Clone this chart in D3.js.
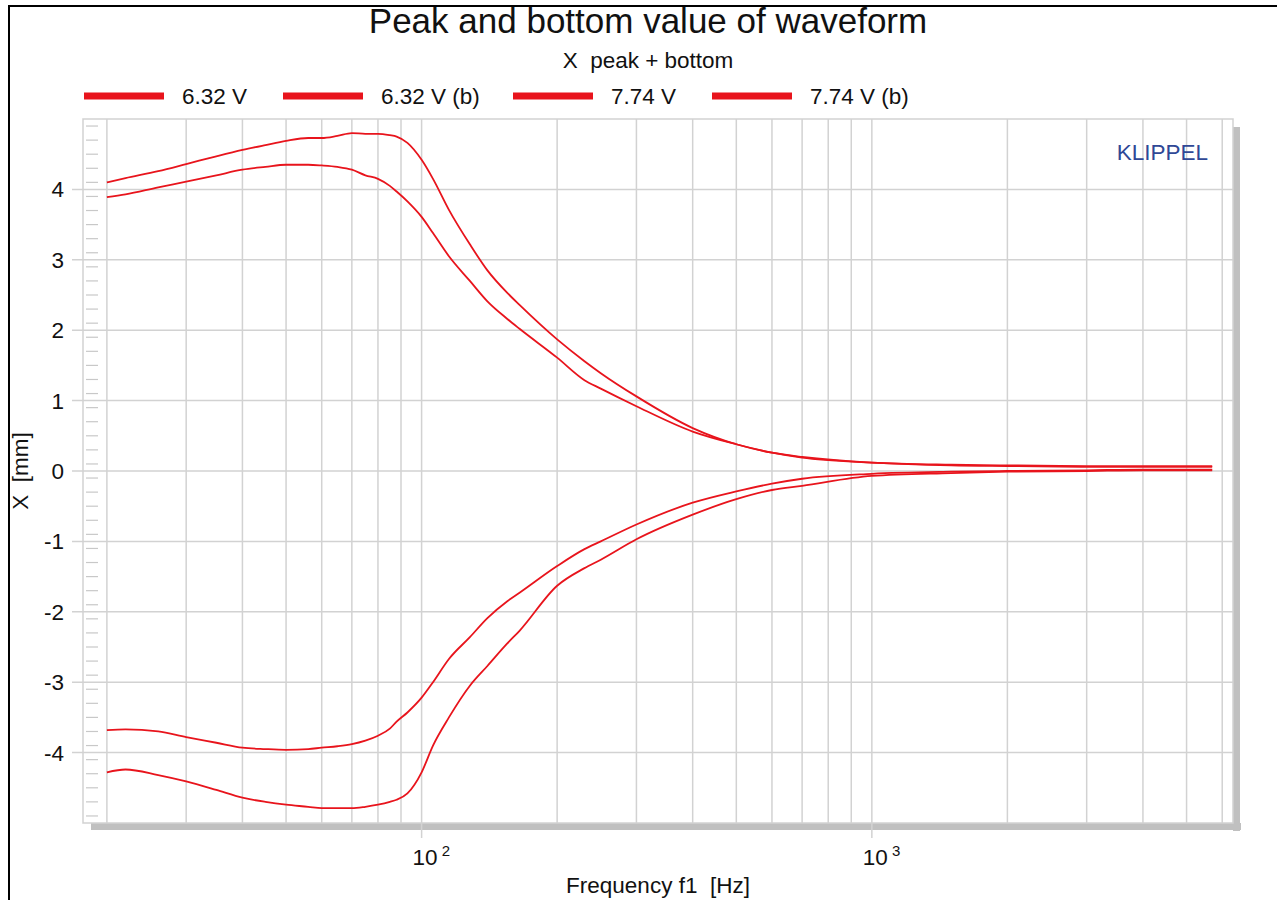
<!DOCTYPE html>
<html>
<head>
<meta charset="utf-8">
<script src="https://cdn.jsdelivr.net/npm/d3@7"></script>
<style>
  html, body { margin: 0; padding: 0; background: #fff; }
  svg { display: block; font-family: "Liberation Sans", Arial, sans-serif; }
  svg text { white-space: pre; }
</style>
</head>
<body>
<svg id="chart" width="1277" height="900"></svg>
<script>
// ---------------- DATA ----------------
const freq = [20, 22, 26, 30, 35, 40, 45, 50, 56, 60, 65, 70, 75, 80, 85, 88, 93, 100, 106, 115, 128, 140, 155, 165, 200, 230, 250, 300, 400, 500, 600, 700, 1000, 1500, 2000, 3000, 4000, 5700];

const peak632 = [3.89, 3.93, 4.03, 4.11, 4.20, 4.28, 4.32, 4.35, 4.35, 4.34, 4.32, 4.28, 4.20, 4.15, 4.05, 3.97, 3.83, 3.61, 3.38, 3.05, 2.70, 2.41, 2.16, 2.02, 1.61, 1.29, 1.17, 0.92, 0.56, 0.38, 0.26, 0.19, 0.12, 0.08, 0.07, 0.06, 0.06, 0.06];
const bottom632 = [-3.68, -3.67, -3.70, -3.78, -3.86, -3.93, -3.95, -3.96, -3.95, -3.93, -3.91, -3.88, -3.83, -3.76, -3.66, -3.56, -3.43, -3.22, -3.00, -2.67, -2.36, -2.09, -1.85, -1.73, -1.35, -1.11, -1.00, -0.76, -0.45, -0.29, -0.18, -0.11, -0.04, -0.01, 0.00, 0.01, 0.02, 0.02];
const peak774 = [4.10, 4.16, 4.26, 4.36, 4.47, 4.56, 4.63, 4.69, 4.73, 4.73, 4.76, 4.80, 4.79, 4.79, 4.77, 4.75, 4.66, 4.42, 4.15, 3.71, 3.22, 2.85, 2.53, 2.36, 1.87, 1.56, 1.39, 1.06, 0.61, 0.38, 0.26, 0.20, 0.12, 0.09, 0.08, 0.07, 0.07, 0.07];
const bottom774 = [-4.28, -4.24, -4.32, -4.41, -4.53, -4.64, -4.70, -4.74, -4.77, -4.79, -4.79, -4.79, -4.77, -4.74, -4.70, -4.67, -4.58, -4.28, -3.90, -3.50, -3.05, -2.77, -2.45, -2.27, -1.63, -1.38, -1.26, -0.97, -0.62, -0.40, -0.27, -0.21, -0.07, -0.03, -0.01, 0.00, 0.01, 0.01];

const seriesNames = ["6.32 V", "6.32 V (b)", "7.74 V", "7.74 V (b)"];
const seriesValues = [peak632, bottom632, peak774, bottom774];

const yTicks = [-4, -3, -2, -1, 0, 1, 2, 3, 4];
const xMajorTicks = [100, 1000];
const xMajorLabels = ["10", "10"];
const xMajorExp = ["2", "3"];
const xGrid = [20, 30, 40, 50, 60, 70, 80, 90, 100, 200, 300, 400, 500, 600, 700, 800, 900, 1000, 2000, 3000, 4000, 5000, 6000];

const titleText = "Peak and bottom value of waveform";
const subtitleText = "X  peak + bottom";
const xLabelText = "Frequency f1  [Hz]";
const yLabelText = "X  [mm]";
const brandText = "KLIPPEL";

// ---------------- LAYOUT ----------------
const plot = { left: 83, right: 1233, top: 119, bottom: 823 };
const red = "#e8141c";
const gridColor = "#d2d2d2";
const shadowColor = "#c0c0c0";
const fontSize = 22.5;

const svg = d3.select("#chart");

const x = d3.scaleLog().domain([17.7, 6340]).range([plot.left, plot.right]);
const y = d3.scaleLinear().domain([-5, 5]).range([plot.bottom, plot.top]);

// outer frame (top + left black lines)
svg.append("line").attr("x1", 8).attr("x2", 1277).attr("y1", 6).attr("y2", 6)
  .attr("stroke", "#000").attr("stroke-width", 2);
svg.append("line").attr("x1", 9).attr("x2", 9).attr("y1", 5).attr("y2", 900)
  .attr("stroke", "#000").attr("stroke-width", 2);

// shadow
svg.append("rect").attr("x", plot.right).attr("y", plot.top + 8)
  .attr("width", 7).attr("height", plot.bottom - plot.top).attr("fill", shadowColor);
svg.append("rect").attr("x", plot.left + 8).attr("y", plot.bottom)
  .attr("width", plot.right - plot.left).attr("height", 7).attr("fill", shadowColor);

// plot background
svg.append("rect").attr("x", plot.left).attr("y", plot.top)
  .attr("width", plot.right - plot.left).attr("height", plot.bottom - plot.top)
  .attr("fill", "#fff").attr("stroke", gridColor).attr("stroke-width", 1.5);

// vertical grid lines
const gGrid = svg.append("g");
gGrid.selectAll("line.vx").data(xGrid).join("line")
  .attr("class", "vx")
  .attr("x1", d => x(d)).attr("x2", d => x(d))
  .attr("y1", plot.top).attr("y2", plot.bottom)
  .attr("stroke", gridColor).attr("stroke-width", 1.5);

// major x ticks extend below plot
gGrid.selectAll("line.mx").data(xMajorTicks).join("line")
  .attr("class", "mx")
  .attr("x1", d => x(d)).attr("x2", d => x(d))
  .attr("y1", plot.bottom).attr("y2", plot.bottom + 15)
  .attr("stroke", gridColor).attr("stroke-width", 1.5);

// horizontal grid lines (extend left as major ticks)
gGrid.selectAll("line.hy").data(yTicks).join("line")
  .attr("class", "hy")
  .attr("x1", plot.left - 11).attr("x2", plot.right)
  .attr("y1", d => y(d)).attr("y2", d => y(d))
  .attr("stroke", gridColor).attr("stroke-width", 1.5);

// minor y ticks every 0.2
const minor = d3.range(-49, 50, 2).map(v => v / 10).filter(v => Math.abs(v - Math.round(v)) > 1e-6);
gGrid.selectAll("line.my").data(minor).join("line")
  .attr("class", "my")
  .attr("x1", plot.left + 3).attr("x2", plot.left + 15)
  .attr("y1", d => y(d)).attr("y2", d => y(d))
  .attr("stroke", "#c8c8c8").attr("stroke-width", 1.2);

// y tick labels
svg.append("g").selectAll("text").data(yTicks).join("text")
  .attr("x", 64).attr("y", d => y(d) + 8)
  .attr("text-anchor", "end")
  .attr("font-size", fontSize).attr("fill", "#111")
  .text(d => d);

// x tick labels with superscript
const xl = svg.append("g").selectAll("text").data(xMajorTicks).join("text")
  .attr("x", d => x(d) - 9).attr("y", 865)
  .attr("font-size", fontSize).attr("fill", "#111");
xl.append("tspan").text((d, i) => xMajorLabels[i]);
xl.append("tspan").attr("dx", 4).attr("dy", -9).attr("font-size", 15).text((d, i) => xMajorExp[i]);

// axis titles
svg.append("text").attr("x", (plot.left + plot.right) / 2).attr("y", 893)
  .attr("text-anchor", "middle").attr("font-size", fontSize).attr("fill", "#111")
  .text(xLabelText);
svg.append("text").attr("transform", `translate(28, ${y(0)}) rotate(-90)`)
  .attr("text-anchor", "middle").attr("font-size", fontSize).attr("fill", "#111")
  .text(yLabelText);

// title & subtitle
svg.append("text").attr("x", 648).attr("y", 33)
  .attr("text-anchor", "middle").attr("font-size", 35).attr("fill", "#111")
  .text(titleText);
svg.append("text").attr("x", 648).attr("y", 68)
  .attr("text-anchor", "middle").attr("font-size", fontSize).attr("fill", "#111")
  .text(subtitleText);

// brand
svg.append("text").attr("x", 1208).attr("y", 160)
  .attr("text-anchor", "end").attr("font-size", fontSize).attr("fill", "#2f4896")
  .text(brandText);

// legend
const legendX = [84, 283, 513, 712];
const lg = svg.append("g").selectAll("g").data(seriesNames).join("g")
  .attr("transform", (d, i) => `translate(${legendX[i]}, 96)`);
lg.append("line").attr("x1", 0).attr("x2", 80).attr("y1", 0).attr("y2", 0)
  .attr("stroke", red).attr("stroke-width", 7);
lg.append("text").attr("x", 98).attr("y", 8)
  .attr("font-size", fontSize).attr("fill", "#111").text(d => d);

// curves
const line = d3.line()
  .x((d, i) => x(freq[i]))
  .y(d => y(d))
  .curve(d3.curveMonotoneX);
svg.append("g").selectAll("path").data(seriesValues).join("path")
  .attr("d", line)
  .attr("fill", "none")
  .attr("stroke", red)
  .attr("stroke-width", 1.8);
</script>
</body>
</html>
